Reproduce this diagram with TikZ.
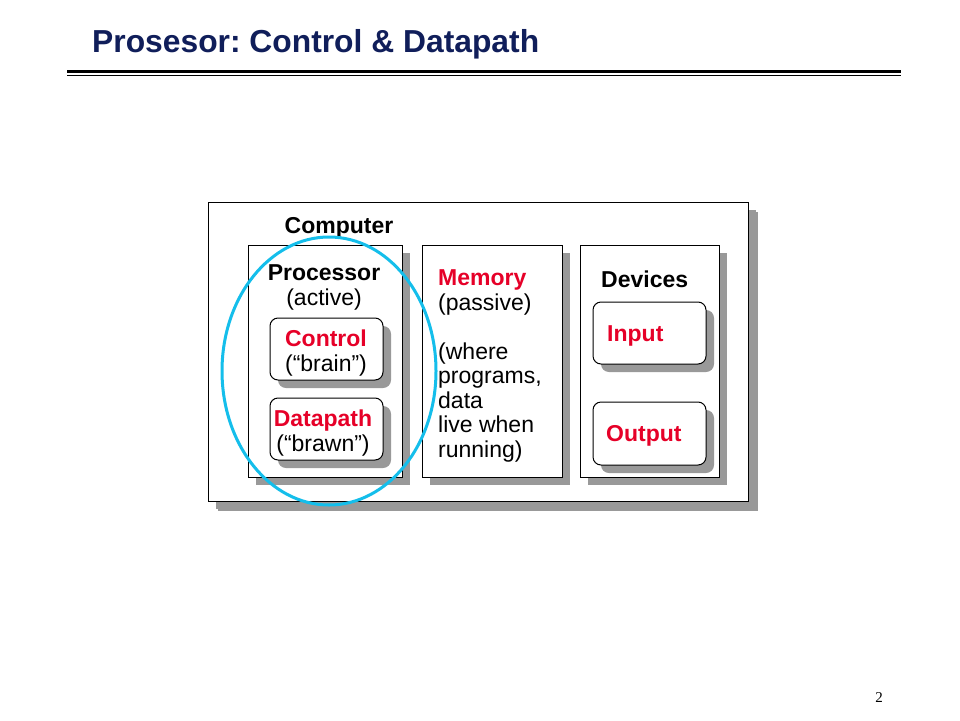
\documentclass[tikz,border=0pt]{standalone}
\usepackage{fontspec}
\setmainfont{Liberation Sans}
\newfontfamily\pagenumfont{Liberation Serif}
\usetikzlibrary{shadows}
\frenchspacing
\definecolor{titleblue}{RGB}{16,30,90}
\definecolor{redtxt}{RGB}{230,0,40}
\definecolor{shadowgray}{RGB}{153,153,153}
\definecolor{ringcyan}{RGB}{20,190,235}
\tikzset{
  box/.style={draw=black, line width=1pt, fill=white, rectangle, inner sep=0pt,
    drop shadow={shadow xshift=8pt, shadow yshift=-8pt, fill=shadowgray, opacity=1}},
  bigbox/.style={box, drop shadow={shadow xshift=10pt, shadow yshift=-10pt, fill=shadowgray, opacity=1}},
  rbox/.style={box, rounded corners=8pt},
  txt/.style={inner sep=0pt, font=\fontsize{23}{24.5}\selectfont},
  btxt/.style={txt, font=\fontsize{23}{24.5}\selectfont\bfseries},
}
\begin{document}
\begin{tikzpicture}[x=1pt, y=-1pt]
\useasboundingbox (0,0) rectangle (960,720);
% title
\node[anchor=base west, inner sep=0pt, text=titleblue, font=\fontsize{31.8}{38}\selectfont\bfseries] (title) at (92,52) {Prosesor: Control \& Datapath};
\coordinate (rl) at (67,71);
\coordinate (rr) at (901,71);
\draw[line width=3pt] (rl) -- (rr);
\draw[line width=1.2pt] ([yshift=-4.5pt]rl) -- ([yshift=-4.5pt]rr);
% boxes
\node[bigbox, minimum width=540pt, minimum height=299pt] (computer) at (478,351.5) {};
\node[box, minimum width=154pt, minimum height=232pt] (processor) at (325,361) {};
\node[box, minimum width=140pt, minimum height=232pt] (memory) at (492,361) {};
\node[box, minimum width=139pt, minimum height=232pt] (devices) at (649.5,361) {};
\node[rbox, minimum width=113pt, minimum height=62pt] (control) at (326.5,349) {};
\node[rbox, minimum width=113pt, minimum height=62pt] (datapath) at (326.5,429) {};
\node[rbox, minimum width=113pt, minimum height=62pt] (input) at (649.5,333) {};
\node[rbox, minimum width=113pt, minimum height=63pt] (output) at (649.5,433.5) {};
% texts
\node[btxt, anchor=base] (computerlbl) at (339,233) {Computer};
\node[txt, anchor=base, align=center] (proclbl) at (324,305) {\textbf{Processor}\\(active)};
\node[txt, anchor=base, align=center] (ctrllbl) at (326,371) {\textbf{\textcolor{redtxt}{Control}}\\(“brain”)};
\node[txt, anchor=base, align=center] (dplbl) at (323,451) {\textbf{\textcolor{redtxt}{Datapath}}\\(“brawn”)};
\node[txt, anchor=base west, align=left] (memlbl) at (438,457) {\textbf{\textcolor{redtxt}{Memory}}\\(passive)\\[24.5pt](where\\programs,\\data\\live when\\running)};
\node[btxt, anchor=base west] (devlbl) at (601,287) {Devices};
\node[btxt, anchor=base west, text=redtxt] (inlbl) at (607,341) {Input};
\node[btxt, anchor=base west, text=redtxt] (outlbl) at (606,441) {Output};
% ring
\draw[ringcyan, line width=3pt] (329,371) ellipse [x radius=107, y radius=134];
% page number
\node[anchor=base, inner sep=0pt, font=\pagenumfont\fontsize{15}{18}\selectfont] (pagenum) at (879,702) {2};
\end{tikzpicture}
\end{document}
